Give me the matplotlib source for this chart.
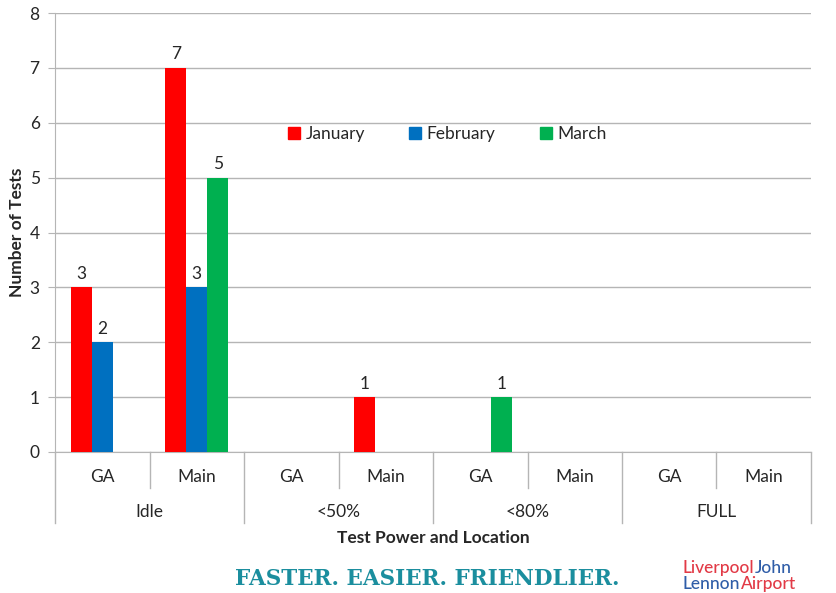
import matplotlib
matplotlib.use("Agg")
import matplotlib.pyplot as plt
from matplotlib.lines import Line2D
import numpy as np

# ---- data ----
groups = ["Idle", "<50%", "<80%", "FULL"]
locations = ["GA", "Main"]
months = ["January", "February", "March"]
january = [3, 7, 0, 1, 0, 0, 0, 0]
february = [2, 3, 0, 0, 0, 0, 0, 0]
march = [0, 5, 0, 0, 1, 0, 0, 0]
month_colors = ["#FF0000", "#0070C0", "#00B050"]
yticks = [0, 1, 2, 3, 4, 5, 6, 7, 8]

plt.rcParams['font.family'] = ['Lato', 'DejaVu Sans']
W, H = 837, 593
fig = plt.figure(figsize=(W / 100, H / 100), dpi=100)
fig.patch.set_facecolor("white")

L, R, T, B = 55, 811, 13, 452
ax = fig.add_axes([L / W, 1 - B / H, (R - L) / W, (B - T) / H])

grid_c = "#b5b5b5"
text_c = "#262626"
fs = 12.5
series = [january, february, march]
n = len(january)
x = np.arange(n)
bw = 0.222
for k, (vals, col) in enumerate(zip(series, month_colors)):
    xs = x + (k - 1) * bw
    ax.bar(xs, vals, width=bw, color=col, zorder=3)
    for xi, v in zip(xs, vals):
        if v > 0:
            ax.annotate(str(v), (xi, v), xytext=(0, 4), textcoords="offset points",
                        ha="center", va="bottom", fontsize=fs, color=text_c)

ax.set_xlim(-0.5, n - 0.5)
ax.set_ylim(0, 8)
ax.set_yticks(yticks)
ax.set_yticklabels([str(t) for t in yticks], fontsize=fs, color=text_c)
ax.yaxis.grid(True, color=grid_c, linewidth=1, zorder=0)
ax.set_axisbelow(True)
ax.tick_params(axis="y", length=5, color=grid_c, pad=6)
ax.set_xticks([])
for s in ["top", "right"]:
    ax.spines[s].set_visible(False)
ax.spines["left"].set_color(grid_c)
ax.spines["bottom"].set_color(grid_c)
ax.set_ylabel("Number of Tests", fontsize=12.5, fontweight="bold", color=text_c, labelpad=3)

# hierarchical x labels
tr = ax.get_xaxis_transform()
hpx = B - T
def ay(py):
    return (B - py) / hpx

sub_y = ay(477)
grp_y = ay(512)
inner_bot = ay(488)
outer_bot = ay(523)
for i in range(n):
    ax.text(i, sub_y, locations[i % 2], transform=tr, ha="center", va="center",
            fontsize=fs, color=text_c, clip_on=False)
for g, name in enumerate(groups):
    ax.text(2 * g + 0.5, grp_y, name, transform=tr, ha="center", va="center",
            fontsize=fs, color=text_c, clip_on=False)
for b in range(n + 1):
    xb = b - 0.5
    bot = outer_bot if b % 2 == 0 else inner_bot
    ax.add_line(Line2D([xb, xb], [0, bot], transform=tr, color=grid_c, lw=1, clip_on=False))

ax.text(0.5, ay(538), "Test Power and Location", transform=ax.transAxes, ha="center",
        va="center", fontsize=12.5, fontweight="bold", color=text_c)

# legend
handles = [Line2D([], [], marker="s", ls="", color=c, markersize=8) for c in month_colors]
fig.legend(handles, months, loc="center", bbox_to_anchor=(446 / W, 1 - 134 / H), ncol=3,
           frameon=False, fontsize=fs, handletextpad=0.15, columnspacing=2.4,
           handlelength=1.0, labelcolor=text_c)

# footer
fig.text(427 / W, 1 - 579 / H, "FASTER. EASIER. FRIENDLIER.", ha="center", va="center",
         fontsize=15.5, fontweight="bold", family="DejaVu Serif", color="#1b8e9e")

renderer = fig.canvas.get_renderer()
def colored_line(parts, x0, y0, size):
    xcur = x0
    for txt, col in parts:
        t = fig.text(xcur / W, 1 - y0 / H, txt, ha="left", va="baseline", fontsize=size,
                     color=col, family="Lato", fontweight="medium")
        bb = t.get_window_extent(renderer=renderer)
        xcur += bb.width
red_l, blue_l = "#e23a46", "#2f5da8"
colored_line([("Liverpool", red_l), ("John", blue_l)], 683, 573, 12.5)
colored_line([("Lennon", blue_l), ("Airport", red_l)], 683, 589, 12.5)

fig.savefig("out.png", dpi=100, facecolor="white")
